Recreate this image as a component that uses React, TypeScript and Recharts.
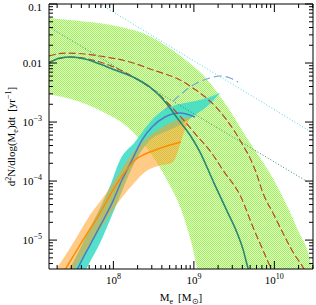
import React from 'react';
import { ComposedChart, Area, Line, XAxis, YAxis, Label } from 'recharts';

// every value is log10: x = log10(Me / Msun), y = log10(rate in yr^-1)

// broad green band
const greenX = [7.2, 7.585, 7.896, 8.144, 8.33, 8.542, 8.678, 8.852, 8.976, 9.051, 9.386, 9.635, 10.007, 10.281, 10.467, 10.48];
const greenHi = [-1.237, -1.288, -1.339, -1.407, -1.475, -1.61, -1.729, -1.898, -2.034, -2.119, -2.678, -3.22, -4.017, -4.797, -5.475, -5.593];
const greenLo = [-2.525, -2.661, -2.847, -3.051, -3.305, -3.695, -4.017, -4.525, -5.085, -5.508, -6, -6, -6, -6, -6, -6];

// turquoise band + blue curves
const cyanX = [7.461, 7.585, 7.709, 7.834, 7.958, 8.082, 8.268, 8.455, 8.641, 8.827, 9.014, 9.2, 9.324];
const cyanHi = [-5.475, -5.153, -4.797, -4.458, -4.085, -3.644, -3.339, -3.0, -2.78, -2.695, -2.644, -2.576, -2.508];
const cyanLo = [-6.034, -5.695, -5.373, -5.051, -4.661, -4.254, -3.678, -3.305, -3.169, -3.051, -2.881, -2.695, -2.508];
const blueX = [7.523, 7.56, 7.709, 7.834, 7.983, 8.107, 8.231, 8.355, 8.48, 8.641, 8.827, 9.014];
const blueY = [-5.593, -5.475, -5.085, -4.763, -4.373, -3.983, -3.644, -3.305, -3.085, -2.915, -2.847, -2.915];
const blueDashX = [8.641, 8.827, 9.014, 9.2, 9.324, 9.448, 9.548];
const blueDashY = [-2.797, -2.542, -2.356, -2.254, -2.22, -2.254, -2.322];

// orange band + orange curve
const orangeX = [7.299, 7.399, 7.523, 7.709, 7.896, 8.082, 8.268, 8.393, 8.554, 8.728, 8.889, 8.952];
const orangeHi = [-5.475, -5.271, -5.0, -4.576, -4.237, -3.847, -3.475, -3.305, -3.136, -3.0, -2.932, -2.915];
const orangeLo = [-5.949, -5.729, -5.475, -5.085, -4.695, -4.322, -4.017, -3.847, -3.746, -3.695, -3.136, -2.915];
const orangeLineX = [7.361, 7.622, 7.834, 7.995, 8.144, 8.268, 8.393, 8.554, 8.703, 8.839];
const orangeLineY = [-5.593, -5.0, -4.542, -4.153, -3.847, -3.644, -3.542, -3.458, -3.39, -3.339];

// solid teal curve
const tealX = [7.2, 7.337, 7.461, 7.647, 7.834, 8.02, 8.268, 8.455, 8.579, 8.703, 8.802, 8.952, 9.076, 9.25, 9.424, 9.523, 9.61, 9.672, 9.697];
const tealY = [-2.0, -1.915, -1.898, -1.932, -2.017, -2.119, -2.254, -2.407, -2.559, -2.763, -2.949, -3.22, -3.508, -4.034, -4.542, -4.831, -5.153, -5.475, -5.593];

// red dashed curves
const redAX = [7.2, 7.399, 7.647, 7.834, 8.206, 8.529, 8.777, 9.026, 9.275, 9.511, 9.622, 9.697, 9.771, 9.858, 9.983, 10.107, 10.231, 10.355, 10.393];
const redAY = [-1.881, -1.831, -1.847, -1.881, -1.983, -2.136, -2.254, -2.458, -2.746, -3.169, -3.424, -3.61, -3.847, -4.203, -4.542, -4.881, -5.203, -5.458, -5.542];
const redBX = [7.2, 7.461, 7.834, 8.206, 8.529, 8.827, 9.051, 9.212, 9.361, 9.585, 9.734, 9.858, 9.958, 9.983];
const redBY = [-1.983, -1.898, -1.983, -2.203, -2.492, -2.898, -3.254, -3.508, -3.814, -4.271, -4.78, -5.169, -5.475, -5.542];

// straight dotted power laws
const cyanDotX = [7.7, 9.0, 10.48];
const cyanDotY = [-0.889, -1.963, -3.186];
const greenDotX = [7.2, 8.529, 10.48];
const greenDotY = [-1.39, -2.475, -4.068];

// axes
const xDomain = [7.2, 10.48];
const yDomain = [-5.49, -1];
const xDecades = [7, 8, 9, 10];
const yDecades = [-6, -5, -4, -3, -2, -1];
const yPlainLabels: Record<string, string> = { '-1': '0.1', '-2': '0.01' };
const mantissas = [1, 2, 3, 4, 5, 6, 7, 8, 9];

const inside = (v: number, d: number[]) => v >= d[0] - 1e-9 && v <= d[1] + 1e-9;
const xTicks = xDecades.flatMap(d => mantissas.map(m => d + Math.log10(m))).filter(v => inside(v, xDomain));
const yTicks = yDecades.flatMap(d => mantissas.map(m => d + Math.log10(m))).filter(v => inside(v, yDomain));
const isMajor = (v: number) => Math.abs(v - Math.round(v)) < 1e-6;

const band = (x: number[], lo: number[], hi: number[]) => x.map((v, i) => ({ x: v, r: [lo[i], hi[i]] }));
const curve = (x: number[], y: number[]) => x.map((v, i) => ({ x: v, y: y[i] }));

const font = 'Liberation Serif, Times New Roman, serif';

const BottomTick = (p: any) => {
  const { x, y, payload } = p;
  const major = isMajor(payload.value);
  return (
    <g>
      <line x1={x} x2={x} y1={y} y2={y - (major ? 8 : 4)} stroke="#000" />
      {major && (
        <text x={x} y={y + 15} textAnchor="middle" fontSize={11} fontFamily={font} fill="#000">
          10<tspan dy={-5} fontSize={8}>{Math.round(payload.value)}</tspan>
        </text>
      )}
    </g>
  );
};

const TopTick = (p: any) => {
  const { x, y, payload } = p;
  const major = isMajor(payload.value);
  return <line x1={x} x2={x} y1={y} y2={y + (major ? 8 : 4)} stroke="#000" />;
};

const LeftTick = (p: any) => {
  const { x, y, payload } = p;
  const v = payload.value;
  const major = isMajor(v);
  const n = Math.round(v);
  const plain = yPlainLabels[String(n)];
  // the top label sits on the frame edge, nudge it down so it stays on the page
  const base = n === -1 ? y + 7 : y + 4;
  return (
    <g>
      <line x1={x} x2={x + (major ? 8 : 4)} y1={y} y2={y} stroke="#000" />
      {major && (
        <text x={x - 7} y={base} textAnchor="end" fontSize={11} fontFamily={font} fill="#000">
          {plain ? plain : <>10<tspan dy={-5} fontSize={8}>{'\u2212' + Math.abs(n)}</tspan></>}
        </text>
      )}
    </g>
  );
};

const RightTick = (p: any) => {
  const { x, y, payload } = p;
  const major = isMajor(payload.value);
  return <line x1={x} x2={x - (major ? 8 : 4)} y1={y} y2={y} stroke="#000" />;
};

const XTitle = (p: any) => {
  const vb = p.viewBox;
  return (
    <text x={vb.x + vb.width / 2} y={vb.y + 32} textAnchor="middle" fontSize={11} fontFamily={font} fill="#000">
      M<tspan dy={3} fontSize={8}>e</tspan>
      <tspan dy={-3} dx={5}>[M</tspan>
      <tspan dy={3} fontSize={8}>{'\u2299'}</tspan>
      <tspan dy={-3}>]</tspan>
    </text>
  );
};

const YTitle = (p: any) => {
  const vb = p.viewBox;
  const cx = vb.x + 15;
  const cy = vb.y + vb.height / 2;
  return (
    <text transform={`translate(${cx},${cy}) rotate(-90)`} textAnchor="middle" fontSize={11} fontFamily={font} fill="#000">
      d<tspan dy={-4} fontSize={8}>2</tspan>
      <tspan dy={4}>N/dlog(M</tspan>
      <tspan dy={3} fontSize={8}>e</tspan>
      <tspan dy={-3}>)dt</tspan>
      <tspan dx={5}>[yr</tspan>
      <tspan dy={-4} fontSize={8}>{'\u22121'}</tspan>
      <tspan dy={4}>]</tspan>
    </text>
  );
};

export default function App() {
  return (
    <div style={{ position: 'absolute', left: 0, top: 0, width: 316, height: 305, background: '#fff' }}>
      <ComposedChart width={316} height={305} margin={{ top: 3, right: 2, bottom: 0, left: 0 }}>
        <defs>
          <pattern id="greenDither" width="2" height="2" patternUnits="userSpaceOnUse">
            <rect width="2" height="2" fill="#e2fbcc" />
            <rect width="1" height="1" fill="#a2f058" />
            <rect x="1" y="1" width="1" height="1" fill="#a2f058" />
          </pattern>
        </defs>
        <XAxis dataKey="x" type="number" domain={xDomain} ticks={xTicks} interval={0} allowDataOverflow
          height={36} tickSize={0} tickMargin={0} tick={<BottomTick />} axisLine={{ stroke: '#000' }}>
          <Label content={<XTitle />} />
        </XAxis>
        <XAxis xAxisId="top" orientation="top" dataKey="x" type="number" domain={xDomain} ticks={xTicks} interval={0}
          allowDataOverflow height={1} tickSize={0} tickMargin={0} tick={<TopTick />} axisLine={{ stroke: '#000' }} />
        <YAxis type="number" domain={yDomain} ticks={yTicks} interval={0} allowDataOverflow width={49}
          tickSize={0} tickMargin={0} tick={<LeftTick />} axisLine={{ stroke: '#000' }}>
          <Label content={<YTitle />} />
        </YAxis>
        <YAxis yAxisId="right" orientation="right" type="number" domain={yDomain} ticks={yTicks} interval={0}
          allowDataOverflow width={1} tickSize={0} tickMargin={0} tick={<RightTick />} axisLine={{ stroke: '#000' }} />

        <Area data={band(greenX, greenLo, greenHi)} dataKey="r" type="monotone" stroke="none" fill="url(#greenDither)" fillOpacity={1} isAnimationActive={false} />
        <Area data={band(cyanX, cyanLo, cyanHi)} dataKey="r" type="monotone" stroke="none" fill="#42ddc8" fillOpacity={0.9} isAnimationActive={false} />
        <Line data={curve(blueX, blueY)} dataKey="y" type="monotone" stroke="#4a7fc0" strokeWidth={1.5} dot={false} activeDot={false} isAnimationActive={false} />
        <Line data={curve(blueDashX, blueDashY)} dataKey="y" type="monotone" stroke="#7aa6d6" strokeWidth={1.2} strokeDasharray="8 4" dot={false} activeDot={false} isAnimationActive={false} />
        <Area data={band(orangeX, orangeLo, orangeHi)} dataKey="r" type="monotone" stroke="none" fill="#ffa024" fillOpacity={0.55} isAnimationActive={false} />
        <Line data={curve(orangeLineX, orangeLineY)} dataKey="y" type="monotone" stroke="#ff8c00" strokeWidth={1.5} dot={false} activeDot={false} isAnimationActive={false} />
        <Line data={curve(cyanDotX, cyanDotY)} dataKey="y" type="linear" stroke="#4cd8e8" strokeWidth={1} strokeDasharray="1 2" dot={false} activeDot={false} isAnimationActive={false} />
        <Line data={curve(greenDotX, greenDotY)} dataKey="y" type="linear" stroke="#2f8f6a" strokeWidth={1} strokeDasharray="1 2" dot={false} activeDot={false} isAnimationActive={false} />
        <Line data={curve(redAX, redAY)} dataKey="y" type="monotone" stroke="#b8442c" strokeWidth={1.2} strokeDasharray="7 3" dot={false} activeDot={false} isAnimationActive={false} />
        <Line data={curve(redBX, redBY)} dataKey="y" type="monotone" stroke="#b8442c" strokeWidth={1.2} strokeDasharray="7 3" dot={false} activeDot={false} isAnimationActive={false} />
        <Line data={curve(tealX, tealY)} dataKey="y" type="monotone" stroke="#27876f" strokeWidth={1.6} dot={false} activeDot={false} isAnimationActive={false} />
      </ComposedChart>
    </div>
  );
}
